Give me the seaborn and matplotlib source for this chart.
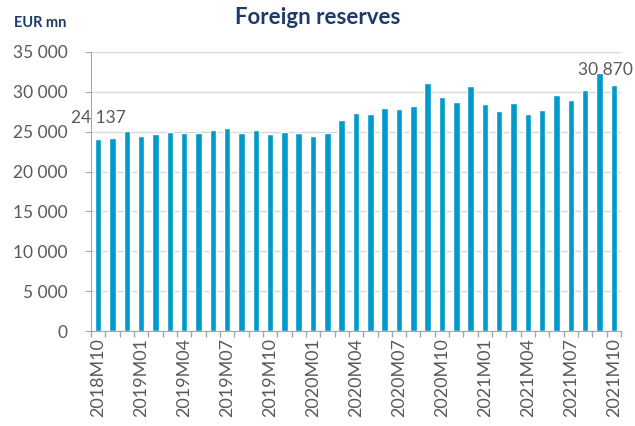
import matplotlib
matplotlib.use("Agg")
import matplotlib.pyplot as plt
import seaborn as sns
import pandas as pd

months = [f"{y}M{m:02d}" for y, m in
          [(2018, 10), (2018, 11), (2018, 12)] +
          [(2019, m) for m in range(1, 13)] +
          [(2020, m) for m in range(1, 13)] +
          [(2021, m) for m in range(1, 11)]]
reserves = [24137, 24150, 25050, 24420, 24750, 25000, 24800, 24850, 25170, 25500,
            24800, 25250, 24700, 24950, 24850, 24500, 24790, 26460, 27380, 27210,
            28000, 27840, 28250, 31050, 29380, 28710, 30790, 28420, 27540, 28630,
            27170, 27670, 29630, 28920, 30210, 32420, 30870]
shown_labels = ["2018M10", "2019M01", "2019M04", "2019M07", "2019M10", "2020M01",
                "2020M04", "2020M07", "2020M10", "2021M01", "2021M04", "2021M07", "2021M10"]

df = pd.DataFrame({"month": months, "value": reserves})

sns.set_style("white")
plt.rcParams["font.family"] = ["Lato", "DejaVu Sans"]

fig = plt.figure(figsize=(6.35, 4.26), dpi=100)
ax = fig.add_axes([0.1433, 0.223, 0.8347, 0.655])
sns.barplot(data=df, x="month", y="value", color="#009ACD", saturation=1,
            width=0.45, ax=ax)

grey = "#595959"
ax.set_ylim(0, 35000)
ax.set_xlim(-0.5, len(months) - 0.5)
ax.set_yticks(range(0, 35001, 5000))
ax.set_yticklabels([f"{v:,}".replace(",", " ") for v in range(0, 35001, 5000)],
                   fontsize=12.5, color=grey)
ax.yaxis.grid(True, color="#D9D9D9", lw=1)
ax.set_axisbelow(True)

ax.set_xticks(range(len(months)))
ax.set_xticklabels([m if m in shown_labels else "" for m in months],
                   rotation=90, fontsize=13, color=grey)
ax.tick_params(axis="x", length=0, pad=5)
ax.set_xticks([i - 0.5 for i in range(len(months) + 1)], minor=True)
ax.tick_params(axis="x", which="minor", length=4, color="#A6A6A6", width=1, bottom=True)
ax.tick_params(axis="y", length=4, color="#A6A6A6", left=True, pad=13)

for s in ["top", "right"]:
    ax.spines[s].set_visible(False)
for s in ["left", "bottom"]:
    ax.spines[s].set_color("#A6A6A6")

ax.set_xlabel("")
ax.set_ylabel("")

ax.annotate("24 137", (0, reserves[0]), xytext=(0, 9), textcoords="offset points",
            ha="center", va="bottom", fontsize=12.5, color=grey)
ax.annotate("30 870", (len(months) - 1, reserves[-1]), xytext=(-6, 5),
            textcoords="offset points", ha="center", va="bottom", fontsize=12.5, color=grey)

navy = "#1F3A68"
fig.text(0.5, 0.958, "Foreign reserves", ha="center", va="center",
         fontsize=16, fontweight="bold", color=navy)
fig.text(0.022, 0.945, "EUR mn", ha="left", va="center",
         fontsize=10.5, fontweight="bold", color=navy)

fig.savefig("out.png", dpi=100)
